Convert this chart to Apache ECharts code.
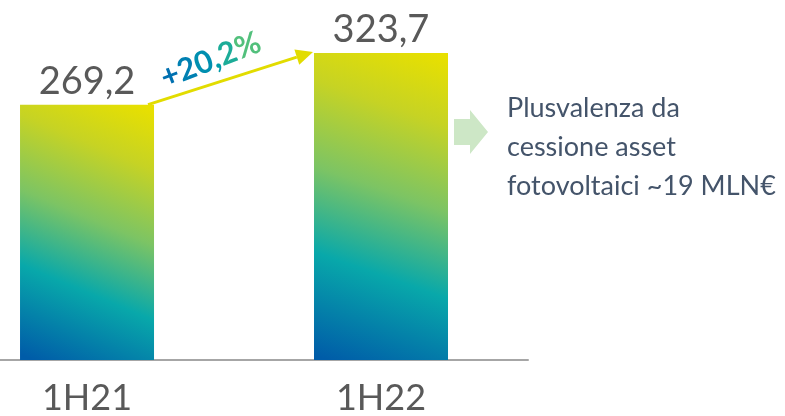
<!DOCTYPE html>
<html>
<head>
<meta charset="utf-8">
<script src="https://cdn.jsdelivr.net/npm/echarts@6/dist/echarts.min.js"></script>
<style>
  html, body { margin: 0; padding: 0; background: #fff; }
  #chart { width: 785px; height: 416px; }
</style>
</head>
<body>
<div id="chart"></div>
<script>
  // data
  var categories = ['1H21', '1H22']
  var values = [269.2, 323.7]
  var growthLabel = '+20,2%'
  var noteLines = ['Plusvalenza da', 'cessione asset', 'fotovoltaici ~19 MLN€']

  var fmt = function (v) {
    return String(v.toFixed(1)).replace('.', ',')
  }

  var barColor = new echarts.graphic.LinearGradient(0.9, 0, 0.1, 1, [
    {offset: 0, color: '#e8e000'},
    {offset: 0.2, color: '#c6d324'},
    {offset: 0.45, color: '#7cc464'},
    {offset: 0.7, color: '#08a8aa'},
    {offset: 1, color: '#005ca8'}
  ])

  var chart = echarts.init(document.getElementById('chart'))
  chart.setOption({
    animation: false,
    grid: {left: 0, right: 257, top: 28, bottom: 52},
    xAxis: {
      type: 'value',
      min: -0.296,
      max: 1.5,
      splitLine: {show: false},
      axisTick: {show: false},
      axisLine: {onZero: false, lineStyle: {color: '#a6a6a6', width: 2}},
      axisLabel: {
        customValues: [0, 1],
        color: '#595959',
        fontFamily: 'Lato',
        fontSize: 36,
        margin: 20,
        formatter: function (v) { return categories[Math.round(v)] }
      }
    },
    yAxis: {
      type: 'value',
      min: 0,
      max: 350,
      show: false,
      splitLine: {show: false}
    },
    series: [{
      type: 'bar',
      data: values.map(function (v, i) { return [i, v] }),
      barWidth: 134,
      itemStyle: {color: barColor},
      label: {
        show: true,
        position: 'top',
        distance: 4,
        color: '#595959',
        fontFamily: 'Lato',
        fontSize: 38,
        formatter: function (p) { return fmt(p.value[1]) }
      }
    }]
  })

  // annotations built from bar positions
  var p1 = chart.convertToPixel({seriesIndex: 0}, [0, values[0]])
  var p2 = chart.convertToPixel({seriesIndex: 0}, [1, values[1]])
  var half = 67
  var sx = p1[0] + half - 6, sy = p1[1]
  var ex = p2[0] - half - 1, ey = p2[1] - 1
  var ang = Math.atan2(ey - sy, ex - sx)
  var headLen = 17, headW = 8
  var bx = ex - headLen * Math.cos(ang), by = ey - headLen * Math.sin(ang)
  var nx = -Math.sin(ang), ny = Math.cos(ang)
  var mx = (sx + ex) / 2, my = (sy + ey) / 2
  var rightEdge = p2[0] + half
  var arrowTop = 110

  // per-character colours: blue -> teal -> green
  var growthColors = ['#0070b0', '#0080b2', '#008fb0', '#009caa', '#1cac98', '#52c07c']
  var rich = {}
  var richText = ''
  growthLabel.split('').forEach(function (ch, i) {
    rich['c' + i] = {
      fill: growthColors[i],
      fontFamily: 'Lato',
      fontWeight: 'bold',
      fontSize: 31
    }
    richText += '{c' + i + '|' + ch + '}'
  })

  chart.setOption({
    graphic: [
      {
        type: 'line',
        shape: {x1: sx, y1: sy, x2: bx, y2: by},
        style: {stroke: '#e2dc00', lineWidth: 3}
      },
      {
        type: 'polygon',
        shape: {points: [[ex, ey], [bx + nx * headW, by + ny * headW], [bx - nx * headW, by - ny * headW]]},
        style: {fill: '#e2dc00'}
      },
      {
        type: 'text',
        x: mx - 14 + nx * -19,
        y: my + ny * -19,
        rotation: -ang + 0.06,
        style: {
          text: richText,
          rich: rich,
          align: 'center',
          verticalAlign: 'middle'
        }
      },
      {
        type: 'polygon',
        shape: {
          points: [
            [rightEdge + 6, arrowTop + 9], [rightEdge + 22, arrowTop + 9], [rightEdge + 22, arrowTop],
            [rightEdge + 40, arrowTop + 22], [rightEdge + 22, arrowTop + 44], [rightEdge + 22, arrowTop + 35],
            [rightEdge + 6, arrowTop + 35]
          ]
        },
        style: {fill: '#cde7c6'}
      },
      {
        type: 'text',
        x: rightEdge + 59,
        y: 89,
        style: {
          text: noteLines.join('\n'),
          fontFamily: 'Lato',
          fontSize: 27,
          lineHeight: 39,
          fill: '#44546a'
        }
      }
    ]
  })
</script>
</body>
</html>
